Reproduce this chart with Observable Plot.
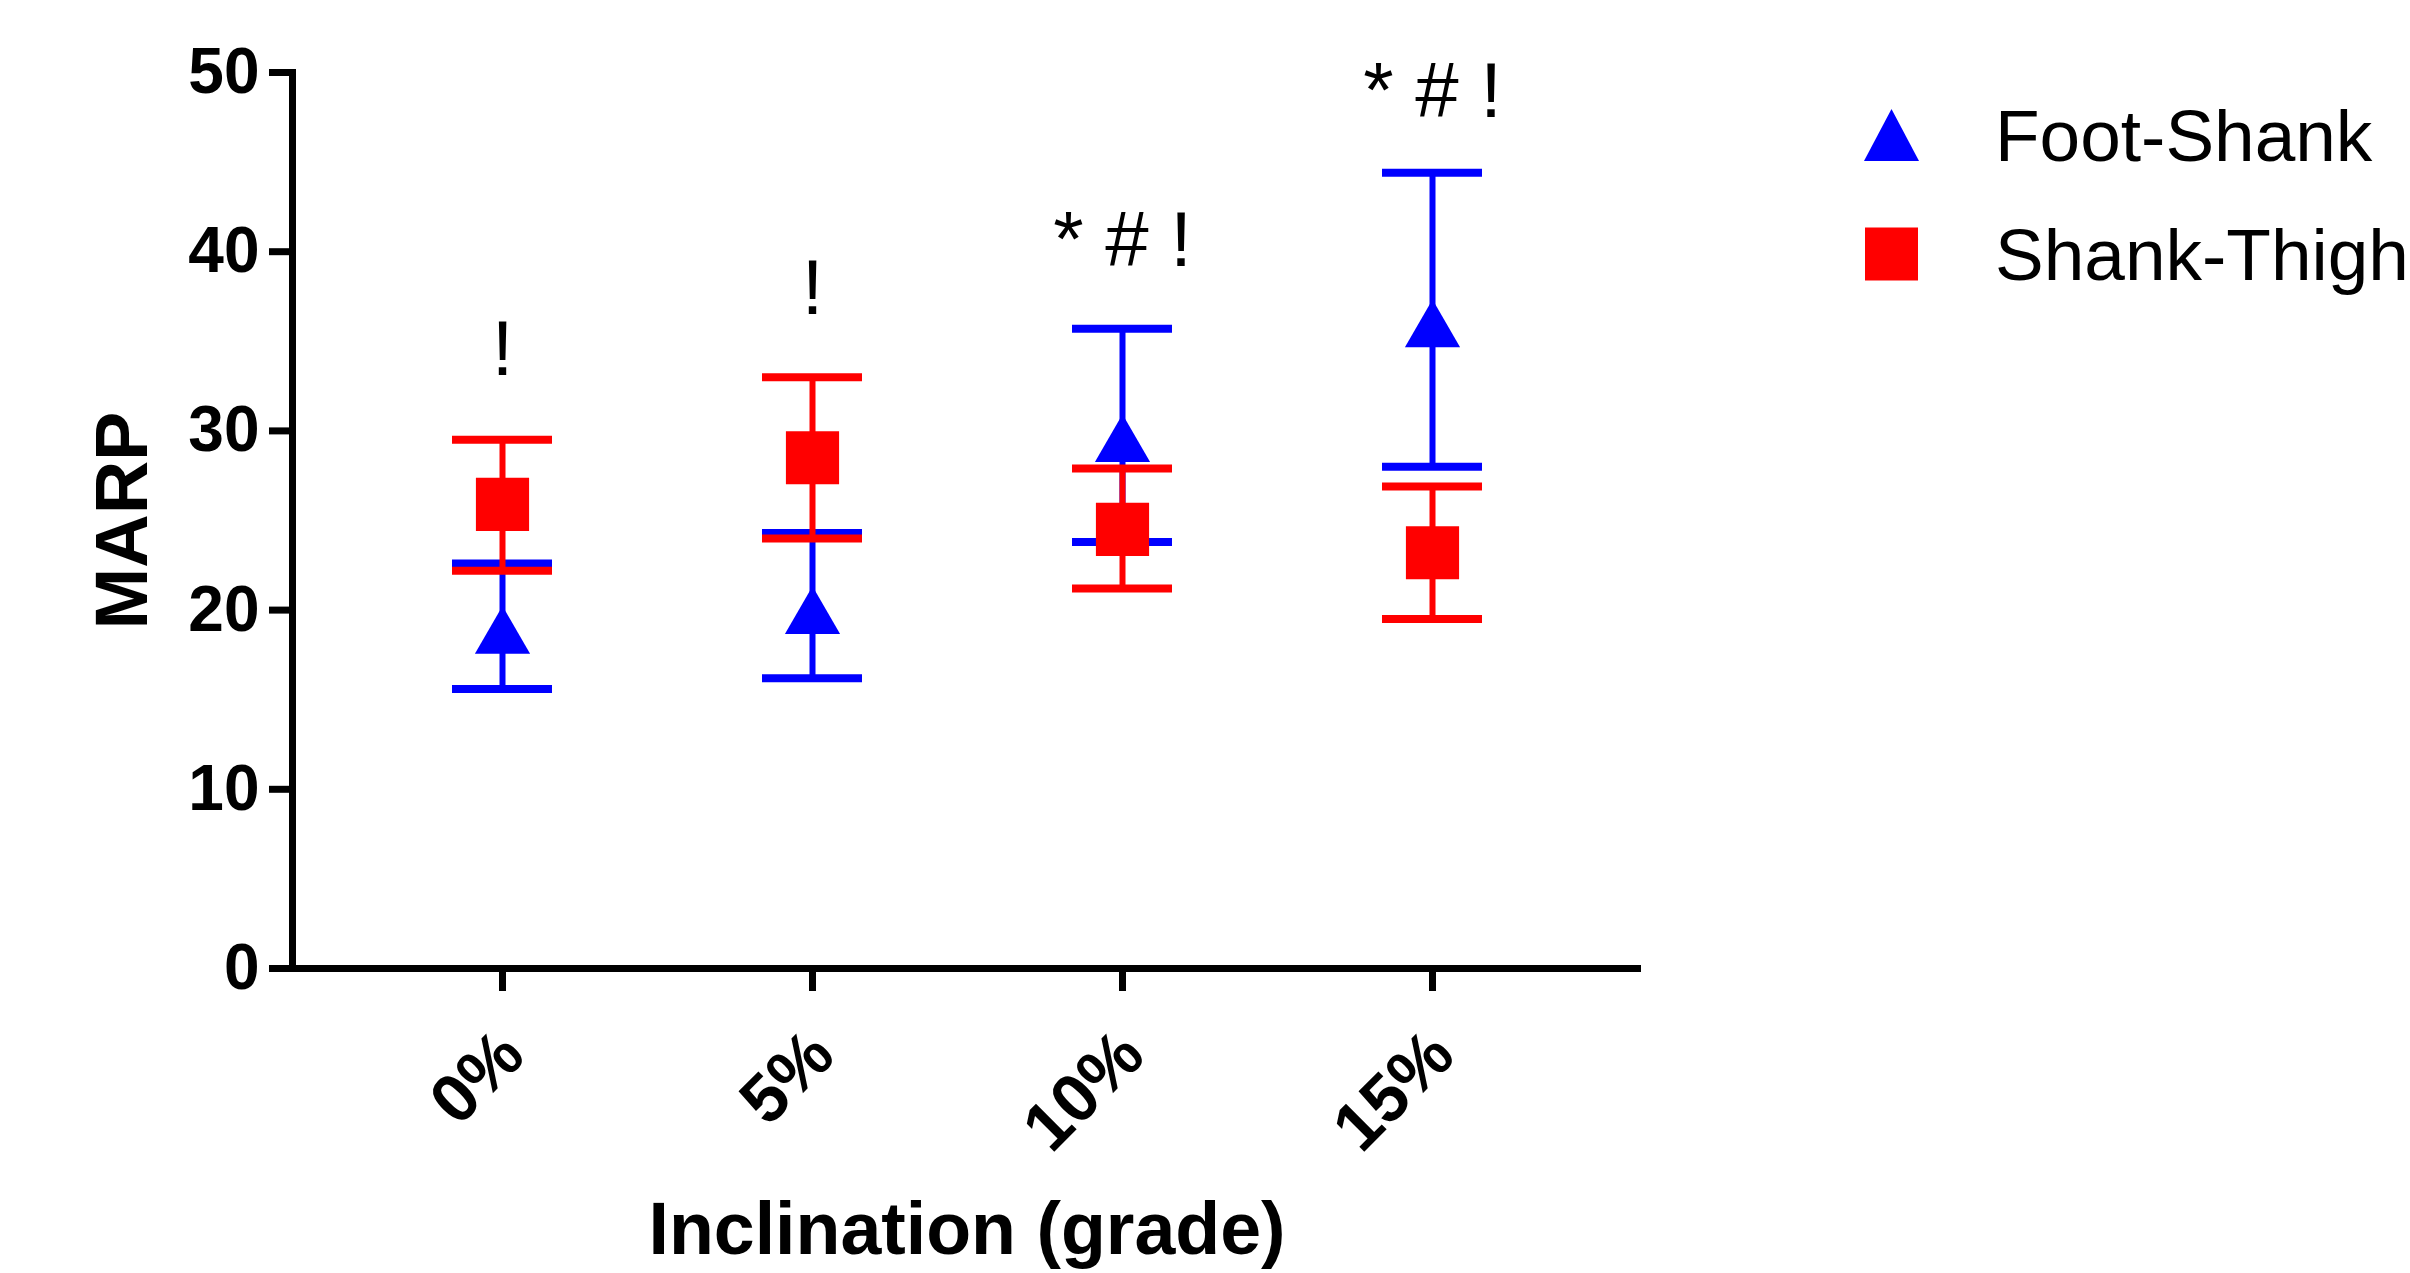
<!DOCTYPE html>
<html>
<head>
<meta charset="utf-8">
<script src="https://cdn.jsdelivr.net/npm/d3@7"></script>
<script src="https://cdn.jsdelivr.net/npm/@observablehq/plot@0.6"></script>
<style>
  html, body { margin: 0; padding: 0; background: #fff; overflow: hidden; }
  #wrap { position: relative; width: 2410px; height: 1273px; font-family: "Liberation Sans", Arial, sans-serif; }
  #legend { position: absolute; left: 0; top: 0; }
  .lg-item { position: absolute; display: flex; align-items: center; font-size: 73px; color: #000; white-space: nowrap; }
</style>
</head>
<body>
<div id="wrap"></div>
<script>
// ---- data ----
const categories = ["0%", "5%", "10%", "15%"];
const footMean = [18.9, 20.0, 29.6, 36.0];
const footLow  = [15.6, 16.2, 23.8, 28.0];
const footHigh = [22.6, 24.3, 35.7, 44.4];
const thighMean = [25.9, 28.5, 24.5, 23.2];
const thighLow  = [22.2, 24.0, 21.2, 19.5];
const thighHigh = [29.5, 33.0, 27.9, 26.9];
const seriesNames = ["Foot-Shank", "Shank-Thigh"];
const annotLabels = ["!", "!", "* # !", "* # !"];
const annotY = [34.5, 37.9, 40.6, 48.9];
const yTicks = [0, 10, 20, 30, 40, 50];
const xTitle = "Inclination (grade)";
const yTitle = "MARP";

const BLUE = "#0000FF", RED = "#FF0000";
const idx = categories.map((_, i) => i);
const cx = i => categories[i];

const chart = Plot.plot({
  width: 2410,
  height: 1273,
  marginLeft: 292,
  marginRight: 769,
  marginTop: 72,
  marginBottom: 305,
  style: { fontFamily: "'Liberation Sans', Arial, sans-serif", background: "white", overflow: "visible", color: "black" },
  x: { type: "point", domain: categories, padding: 0.674, axis: null },
  y: { domain: [0, 50], axis: null },
  marks: [
    Plot.frame({ anchor: "left", strokeWidth: 7 }),
    Plot.ruleY([0], { strokeWidth: 7, insetLeft: -23 }),
    Plot.axisY({ ticks: yTicks, tickSize: 23, strokeWidth: 7, fontSize: 64, fontWeight: "bold", tickPadding: 10, label: null }),
    Plot.axisX({ tickSize: 23, strokeWidth: 7, tickFormat: () => "", label: null }),
    Plot.text(categories, { x: d => d, frameAnchor: "bottom", rotate: -45, textAnchor: "end", dy: 90, dx: 25, fontSize: 68, fontWeight: "bold" }),
    Plot.text([yTitle], { frameAnchor: "left", textAnchor: "middle", rotate: -90, dx: -169, fontSize: 74, fontWeight: "bold" }),
    Plot.text([xTitle], { frameAnchor: "bottom", textAnchor: "middle", dy: 285, fontSize: 73.5, fontWeight: "bold" }),
    // Foot-Shank
    Plot.ruleX(idx, { x: cx, y1: i => footLow[i], y2: i => footHigh[i], stroke: BLUE, strokeWidth: 6 }),
    Plot.ruleY(idx, { x1: cx, x2: cx, y: i => footHigh[i], stroke: BLUE, strokeWidth: 8, insetLeft: -50, insetRight: -50 }),
    Plot.ruleY(idx, { x1: cx, x2: cx, y: i => footLow[i], stroke: BLUE, strokeWidth: 8, insetLeft: -50, insetRight: -50 }),
    Plot.dot(idx, { x: cx, y: i => footMean[i], symbol: "triangle", r: 20.5, fill: BLUE, stroke: null, dy: 8 }),
    // Shank-Thigh
    Plot.ruleX(idx, { x: cx, y1: i => thighLow[i], y2: i => thighHigh[i], stroke: RED, strokeWidth: 6 }),
    Plot.ruleY(idx, { x1: cx, x2: cx, y: i => thighHigh[i], stroke: RED, strokeWidth: 8, insetLeft: -50, insetRight: -50 }),
    Plot.ruleY(idx, { x1: cx, x2: cx, y: i => thighLow[i], stroke: RED, strokeWidth: 8, insetLeft: -50, insetRight: -50 }),
    Plot.dot(idx, { x: cx, y: i => thighMean[i], symbol: "square", r: 30, fill: RED, stroke: null }),
    // annotations
    Plot.text(idx, { x: cx, y: i => annotY[i], text: i => annotLabels[i], fontSize: 78 })
  ]
});

const wrap = document.getElementById("wrap");
wrap.appendChild(chart);

// legend (right side)
const legend = document.createElement("div");
legend.id = "legend";
const items = [
  { name: seriesNames[0], color: BLUE, shape: "tri", top: 135 },
  { name: seriesNames[1], color: RED, shape: "sq", top: 254 }
];
for (const it of items) {
  const d = document.createElement("div");
  d.className = "lg-item";
  d.style.left = "1864px";
  d.style.top = (it.top - 40) + "px";
  d.style.height = "80px";
  const sym = it.shape === "tri"
    ? `<svg width="55" height="80" viewBox="0 0 55 80"><polygon points="27.5,14 55,66 0,66" fill="${it.color}"/></svg>`
    : `<svg width="55" height="80" viewBox="0 0 55 80"><rect x="1" y="13.5" width="53" height="53" fill="${it.color}"/></svg>`;
  d.innerHTML = sym + `<span style="margin-left:76px">${it.name}</span>`;
  legend.appendChild(d);
}
wrap.appendChild(legend);
</script>
</body>
</html>
